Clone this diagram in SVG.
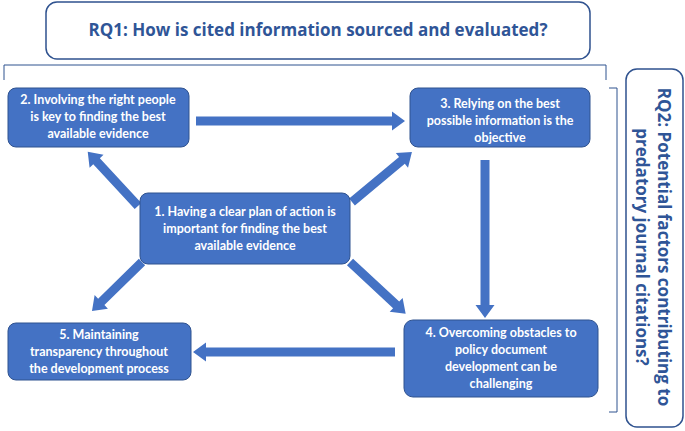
<svg xmlns="http://www.w3.org/2000/svg" width="685" height="431" viewBox="0 0 685 431">
<style>
.box{fill:#4472C4;stroke:#2F528F;stroke-width:1}
.t{font-family:Lato,"Open Sans",sans-serif;font-weight:bold;font-size:12.5px;fill:#fff;text-anchor:middle}
.rq{fill:#fff;stroke:#2F528F;stroke-width:1.5}
.rqt{font-family:"Open Sans",Lato,sans-serif;font-weight:bold;font-size:17px;fill:#2F5597;text-anchor:middle}
.br{fill:none;stroke:#2F528F;stroke-width:1}
.ar{fill:#4472C4}
</style>
<g id="rq1"><rect class="rq" x="46" y="2" width="544" height="57" rx="11"/><text class="rqt" x="318" y="36">RQ1: How is cited information sourced and evaluated?</text></g>
<g id="rq2"><rect class="rq" x="626" y="69" width="57" height="358" rx="11"/>
<text class="rqt" transform="translate(654,247) rotate(90)"><tspan x="0" y="-4">RQ2: Potential factors contributing to</tspan><tspan x="0" y="18">predatory journal citations?</tspan></text></g>
<g id="brackets"><path class="br" d="M4,80 V65 H606 V80"/><path class="br" d="M609,88 H617 V412 H609"/></g>
<g id="connectors">
<path class="ar" transform="translate(196,121)" d="M0,-4.5H196V-9.5L209,0L196,9.5V4.5H0Z"/>
<path class="ar" transform="translate(138,206) rotate(-132.8)" d="M0,-4.5H61V-9.5L74,0L61,9.5V4.5H0Z"/>
<path class="ar" transform="translate(352,202) rotate(-39.8)" d="M0,-4.5H65V-9.5L78,0L65,9.5V4.5H0Z"/>
<path class="ar" transform="translate(485,160) rotate(90)" d="M0,-4.5H145V-9.5L158,0L145,9.5V4.5H0Z"/>
<path class="ar" transform="translate(142,262) rotate(135.6)" d="M0,-4.5H57V-9.5L70,0L57,9.5V4.5H0Z"/>
<path class="ar" transform="translate(350,262) rotate(42.9)" d="M0,-4.5H63V-9.5L76,0L63,9.5V4.5H0Z"/>
<path class="ar" transform="translate(395,352) rotate(180)" d="M0,-4.5H189V-9.5L202,0L189,9.5V4.5H0Z"/>
</g>
<g id="n1"><rect class="box" x="140" y="193" width="210" height="71" rx="8"/><text class="t"><tspan x="245" y="216">1. Having a clear plan of action is</tspan><tspan x="245" y="233">important for finding the best</tspan><tspan x="245" y="250">available evidence</tspan></text></g>
<g id="n2"><rect class="box" x="8" y="88" width="181" height="59" rx="8"/><text class="t"><tspan x="98" y="104">2. Involving the right people</tspan><tspan x="98" y="121">is key to finding the best</tspan><tspan x="98" y="138">available evidence</tspan></text></g>
<g id="n3"><rect class="box" x="410" y="88" width="180" height="59" rx="8"/><text class="t"><tspan x="500" y="108">3. Relying on the best</tspan><tspan x="500" y="125">possible information is the</tspan><tspan x="500" y="142">objective</tspan></text></g>
<g id="n4"><rect class="box" x="404" y="320" width="194" height="77" rx="9"/><text class="t"><tspan x="501" y="337">4. Overcoming obstacles to</tspan><tspan x="501" y="354">policy document</tspan><tspan x="501" y="371">development can be</tspan><tspan x="501" y="388">challenging</tspan></text></g>
<g id="n5"><rect class="box" x="8" y="323" width="183" height="57" rx="8"/><text class="t"><tspan x="99" y="339">5. Maintaining</tspan><tspan x="99" y="356">transparency throughout</tspan><tspan x="99" y="373">the development process</tspan></text></g>
</svg>
